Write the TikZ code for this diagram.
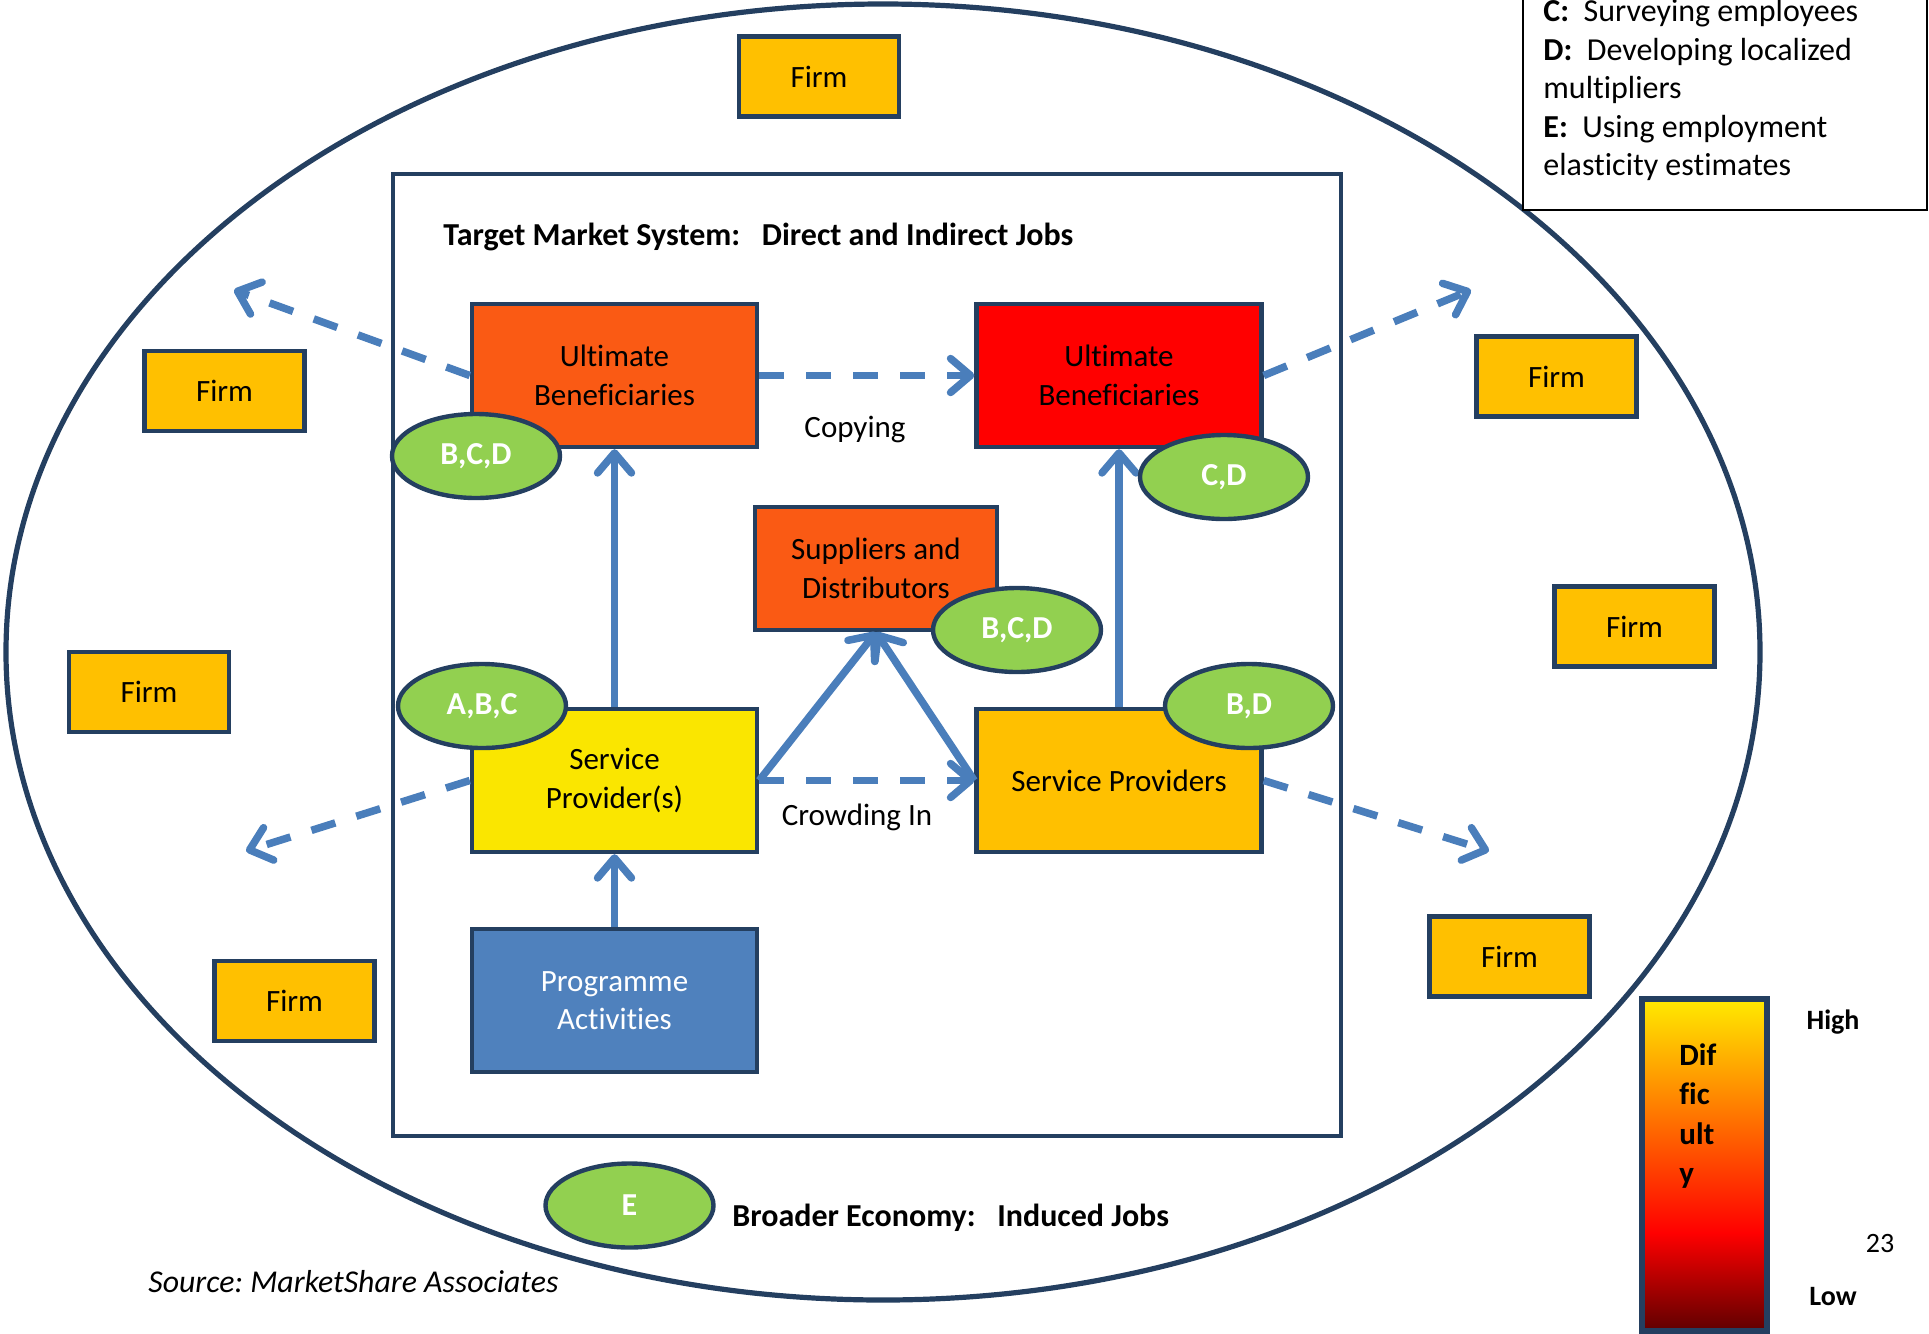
\documentclass[tikz,border=0pt]{standalone}
\usepackage{fontspec}
\setmainfont{Carlito}[Ligatures=NoCommon]
\frenchspacing
\usetikzlibrary{arrows.meta,shapes.geometric}
\definecolor{navy}{HTML}{243F60}
\definecolor{arrowblue}{HTML}{4A7EBB}
\definecolor{firmgold}{HTML}{FFC000}
\definecolor{hotorange}{HTML}{FA5A14}
\definecolor{brightyellow}{HTML}{FAE600}
\definecolor{badgegreen}{HTML}{92D050}
\definecolor{progblue}{HTML}{4F81BD}
\definecolor{gradyellow}{HTML}{FFEA00}
\definecolor{gradorange}{HTML}{FF9400}
\definecolor{darkred}{HTML}{5A0000}
\tikzset{
  boxnode/.style = {rectangle, draw=navy, line width=2.2pt, align=center,
    font=\fontsize{15.5}{19.3}\selectfont, inner sep=0pt,
    minimum width=142.5pt, minimum height=71.5pt},% boite principale
  firm/.style = {boxnode, fill=firmgold, minimum width=80pt,
    minimum height=40pt},% entreprise
  badge/.style = {ellipse, draw=navy, line width=2.2pt, fill=badgegreen,
    text=white, font=\fontsize{16}{18}\selectfont\bfseries, inner sep=0pt,
    minimum width=84pt, minimum height=42pt},% methode
  link/.style = {draw=arrowblue, line width=3.75pt,
    -{Straight Barb[length=10pt,width=17pt,round]}},
  dashlink/.style = {link, dash pattern=on 12.5pt off 11pt},
  plain/.style = {font=\fontsize{15.5}{19.3}\selectfont, inner sep=0pt}
}
\begin{document}
\begin{tikzpicture}[x=0.5pt,y=-0.5pt]
\useasboundingbox (0,0) rectangle (1929,1334);
% broader economy and target market system
\draw[navy, line width=2.6pt] (883,652) ellipse [x radius=438.5pt, y radius=324pt];
\draw[navy, line width=2pt] (392.5,173.5) rectangle (1341,1135.5);
\node[plain, anchor=west, font=\fontsize{16}{18}\selectfont\bfseries] (title) at (443,237)
  {Target Market System:\ \ \ Direct and Indirect Jobs};

% firms
\node[firm] (firm1) at (819,76.5) {Firm};
\node[firm] (firm2) at (224.5,391) {Firm};
\node[firm] (firm3) at (1556.5,376.5) {Firm};
\node[firm] (firm4) at (149,692) {Firm};
\node[firm] (firm5) at (1634.5,626.5) {Firm};
\node[firm] (firm6) at (294.5,1001) {Firm};
\node[firm] (firm7) at (1509.5,956.5) {Firm};

% market actors
\node[boxnode, fill=hotorange] (ubL) at (614.5,375.5) {Ultimate\\Beneficiaries};
\node[boxnode, fill=red] (ubR) at (1119,375.5) {Ultimate\\Beneficiaries};
\node[boxnode, fill=hotorange, minimum width=121pt, minimum height=61.5pt]
  (sd) at (876,568.5) {Suppliers and\\Distributors};
\node[boxnode, fill=brightyellow] (spL) at (614.5,780.5) {Service\\Provider(s)};
\node[boxnode, fill=firmgold] (spR) at (1119,780.5) {Service Providers};
\node[boxnode, fill=progblue, text=white] (pa) at (614.5,1000.5) {Programme\\Activities};

% links
\coordinate (outUL) at (234,290);
\coordinate (outUR) at (1471,290);
\coordinate (outLL) at (246,851);
\coordinate (outLR) at (1489,851);
\draw[dashlink] (ubL.east) -- (ubR.west);
\draw[dashlink] (spL.east) -- (spR.west);
\draw[dashlink] (ubL.west) -- (outUL);
\draw[dashlink] (ubR.east) -- (outUR);
\draw[dashlink] (spL.west) -- (outLL);
\draw[dashlink] (spR.east) -- (outLR);
\draw[link] (spL.north) -- (ubL.south);
\draw[link] (spR.north) -- (ubR.south);
\draw[link] (pa.north) -- (spL.south);
\draw[link] (spL.east) -- (sd.south);
\draw[link] (spR.west) -- (sd.south);
\node[plain] (copying) at (855,429) {Copying};
\node[plain] (crowding) at (857,817) {Crowding In};

% methods
\node[badge] (bcdL) at (476,456) {B,C,D};
\node[badge] (cd) at (1224,477) {C,D};
\node[badge] (bcdM) at (1017,630) {B,C,D};
\node[badge] (abc) at (482,706) {A,B,C};
\node[badge] (bd) at (1249,706) {B,D};
\node[badge] (e) at (629.5,1205.5) {E};
\node[plain, anchor=west, font=\fontsize{16}{18}\selectfont\bfseries] (broader) at (732,1218)
  {Broader Economy:\ \ \ Induced Jobs};
\node[plain, anchor=west, font=\fontsize{15.9}{18}\selectfont\itshape] (source) at (148,1282)
  {Source: MarketShare Associates};

% legend
\draw[black, line width=0.8pt, fill=white] (1523,-20) rectangle (1927,210);
\node[plain, anchor=north west, align=left, font=\fontsize{16}{19.25}\selectfont] (legend) at (1543,-1)
  {\textbf{C:}\ \ Surveying employees\\ \textbf{D:}\ \ Developing localized\\ multipliers\\
   \textbf{E:}\ \ Using employment\\ elasticity estimates};

% difficulty scale
\shade[top color=gradyellow, middle color=gradorange, bottom color=red] (1642,999) rectangle (1767,1233);
\shade[top color=red, bottom color=darkred] (1642,1233) rectangle (1767,1334);
\draw[navy, line width=2.6pt] (1642,999) rectangle (1767,1331);
\node[plain, anchor=north west, align=left, font=\fontsize{15.5}{19.75}\selectfont\bfseries]
  (difficulty) at (1679,1043) {Dif\\fic\\ult\\y};
\node[plain, font=\fontsize{14}{16}\selectfont\bfseries] (high) at (1833,1022) {High};
\node[plain, font=\fontsize{14}{16}\selectfont\bfseries] (low) at (1833,1297) {Low};
\node[plain, font=\fontsize{14}{16}\selectfont] (page) at (1880,1243) {23};
\end{tikzpicture}
\end{document}
